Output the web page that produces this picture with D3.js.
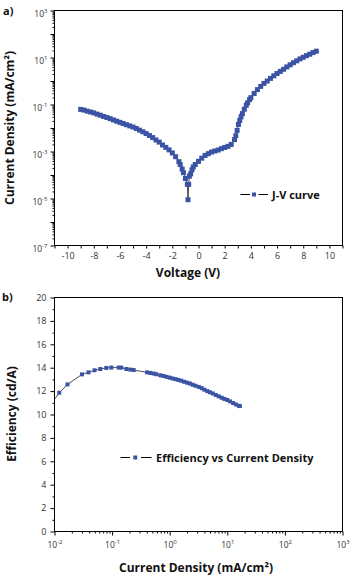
<!DOCTYPE html>
<html><head><meta charset="utf-8">
<script src="https://cdn.jsdelivr.net/npm/d3@7"></script>
<style>
body{margin:0;background:#fff}
svg{display:block}
text{font-family:"Open Sans","Noto Sans",sans-serif}
</style>
</head><body>
<svg id="c" width="355" height="578"></svg>
<script>
// ---- Data: panel a) J-V curve ----
const voltage = [-9,-8.75,-8.5,-8.25,-8,-7.75,-7.5,-7.25,-7,-6.75,-6.5,-6.25,-6,-5.75,-5.5,-5.25,-5,-4.75,-4.5,-4.25,-4,-3.75,-3.5,-3.25,-3,-2.75,-2.5,-2.25,-2,-1.75,-1.5,-1.4,-1.25,-1.15,-1.0,-0.85,-0.8,-0.75,-0.7,-0.6,-0.5,-0.4,-0.25,0,0.25,0.5,0.75,1.0,1.25,1.5,1.75,2.0,2.25,2.5,2.75,2.85,2.95,3.05,3.15,3.25,3.35,3.5,3.65,3.75,3.9,4.0,4.25,4.5,4.75,5.0,5.25,5.5,5.75,6.0,6.25,6.5,6.75,7.0,7.25,7.5,7.75,8.0,8.25,8.5,8.75,9.0];
const currentDensity = [6.2e-2,5.8e-2,5.2e-2,4.8e-2,4.4e-2,3.9e-2,3.5e-2,3.1e-2,2.8e-2,2.5e-2,2.2e-2,1.95e-2,1.74e-2,1.55e-2,1.38e-2,1.23e-2,1.10e-2,9.5e-3,8.1e-3,6.9e-3,5.8e-3,4.8e-3,3.9e-3,3.1e-3,2.5e-3,1.9e-3,1.5e-3,1.17e-3,8.7e-4,6.0e-4,3.7e-4,2.8e-4,1.8e-4,1.26e-4,7.1e-5,4.0e-5,8.9e-6,4.0e-5,8.9e-5,1.12e-4,1.66e-4,2.2e-4,2.8e-4,3.8e-4,5.2e-4,6.8e-4,8.1e-4,9.5e-4,1.05e-3,1.15e-3,1.32e-3,1.48e-3,1.66e-3,2.0e-3,3.2e-3,4.7e-3,7.9e-3,1.41e-2,2.1e-2,3.0e-2,4.1e-2,6.3e-2,9.3e-2,0.117,0.162,0.195,0.295,0.43,0.59,0.79,1.0,1.29,1.66,2.09,2.57,3.16,3.98,4.9,6.0,7.2,8.7,10.2,12.0,13.8,16.2,18.6];
const jvXTicks = [-10,-8,-6,-4,-2,0,2,4,6,8,10];
const jvYLabelExps = [-7,-5,-3,-1,1,3];
const jvLegend = "J-V curve";

// ---- Data: panel b) efficiency ----
const effCurrent = [0.0079,0.0121,0.0168,0.030,0.039,0.0496,0.0624,0.0793,0.0968,0.130,0.1445,0.177,0.207,0.237,0.405,0.461,0.527,0.587,0.69,0.78,0.88,1.0,1.12,1.26,1.41,1.58,1.78,2.0,2.24,2.5,2.8,3.2,3.6,4.0,4.5,5.0,5.6,6.3,7.1,8.0,8.9,10.0,11.2,12.6,14.1,15.8,16.5];
const efficiency = [10.6,11.86,12.57,13.43,13.6,13.78,13.89,13.98,14.01,14.01,14.01,13.89,13.84,13.8,13.6,13.55,13.5,13.44,13.35,13.29,13.22,13.15,13.08,13.02,12.96,12.89,12.80,12.72,12.65,12.55,12.46,12.36,12.25,12.12,12.0,11.9,11.8,11.67,11.55,11.43,11.33,11.24,11.12,10.98,10.86,10.75,10.72];
const effYTicks = [0,2,4,6,8,10,12,14,16,18,20];
const effXLabelExps = [-2,-1,0,1,2,3];
const effLegend = "Efficiency vs Current Density";

const BLUE = "#3a53a3";
const svg = d3.select("#c");

function supLabel(sel, exp){
  sel.text(null);
  sel.append("tspan").text("10").attr("font-size", 8.5);
  sel.append("tspan").text(String(exp)).attr("font-size", 6).attr("dy", -4);
}

function minorLog(lo, hi){
  const out=[];
  for(let e=lo;e<hi;e++) for(let m=2;m<=9;m++) out.push(m*Math.pow(10,e));
  return out;
}

// ================= Panel a =================
const A = {l:54.5, t:10.5, r:342.5, b:245.5};
const xA = d3.scaleLinear().domain([-11,11]).range([A.l, A.r]);
const yA = d3.scaleLog().domain([1e-7,1e3]).range([A.b, A.t]);

const gA = svg.append("g");
gA.append("clipPath").attr("id","clipA").append("rect")
  .attr("x",A.l).attr("y",A.t).attr("width",A.r-A.l).attr("height",A.b-A.t);

gA.append("g").attr("transform",`translate(${A.l},0)`)
  .call(d3.axisLeft(yA).tickValues(minorLog(-7,3)).tickSize(2).tickFormat(""))
  .call(g=>g.select(".domain").remove());
const yAxA = gA.append("g").attr("transform",`translate(${A.l},0)`)
  .call(d3.axisLeft(yA).tickValues(d3.range(-7,4).map(e=>Math.pow(10,e))).tickSize(4).tickPadding(3)
    .tickFormat(d=>{const e=Math.round(Math.log10(d)); return jvYLabelExps.includes(e)? String(e):"";}));
yAxA.select(".domain").remove();
yAxA.selectAll("text").attr("fill","#333").attr("dy","0.55em").each(function(){
  const t=d3.select(this); const e=t.text(); if(e!=="") supLabel(t,e);
});

const xAxA = gA.append("g").attr("transform",`translate(0,${A.b})`)
  .call(d3.axisBottom(xA).tickValues(d3.range(-11,12)).tickSize(3).tickPadding(4)
    .tickFormat(d=>jvXTicks.includes(d)? String(d):""));
xAxA.select(".domain").remove();
xAxA.selectAll("text").attr("fill","#333").attr("font-size",9);

gA.append("rect").attr("x",A.l).attr("y",A.t).attr("width",A.r-A.l).attr("height",A.b-A.t)
  .attr("fill","none").attr("stroke","#000").attr("stroke-width",1);

const jv = voltage.map((v,i)=>({x:v,y:currentDensity[i]}));
const plotA = gA.append("g").attr("clip-path","url(#clipA)");
plotA.append("path").datum(jv)
  .attr("d", d3.line().x(d=>xA(d.x)).y(d=>yA(d.y)))
  .attr("fill","none").attr("stroke","#000").attr("stroke-width",0.7);
plotA.selectAll("rect.m").data(jv).join("rect").attr("class","m")
  .attr("x",d=>xA(d.x)-2.5).attr("y",d=>yA(d.y)-2.5).attr("width",5).attr("height",5).attr("fill",BLUE);

const lgA = gA.append("g").attr("transform","translate(0,194.5)");
lgA.append("line").attr("x1",240.5).attr("x2",250).attr("y1",0).attr("y2",0).attr("stroke","#000").attr("stroke-width",1);
lgA.append("line").attr("x1",258.5).attr("x2",268).attr("y1",0).attr("y2",0).attr("stroke","#000").attr("stroke-width",1);
lgA.append("rect").attr("x",252).attr("y",-2).attr("width",4).attr("height",4).attr("fill",BLUE);
lgA.append("text").attr("x",272).attr("y",4).attr("font-size",11).attr("font-weight","bold").attr("fill","#111").text(jvLegend);

gA.append("text").attr("x",188).attr("y",277).attr("text-anchor","middle").attr("font-size",12).attr("font-weight","bold").attr("fill","#111").text("Voltage (V)");
gA.append("text").attr("transform","translate(14,128) rotate(-90)").attr("text-anchor","middle").attr("font-size",12).attr("font-weight","bold").attr("fill","#111").text("Current Density (mA/cm²)");
gA.append("text").attr("x",3).attr("y",15).attr("font-size",11).attr("font-weight","bold").attr("fill","#111").text("a)");

// ================= Panel b =================
const B = {l:54.5, t:297.5, r:342.5, b:531.5};
const xB = d3.scaleLog().domain([1e-2,1e3]).range([B.l, B.r]);
const yB = d3.scaleLinear().domain([0,20]).range([B.b, B.t]);

const gB = svg.append("g");
gB.append("clipPath").attr("id","clipB").append("rect")
  .attr("x",B.l).attr("y",B.t).attr("width",B.r-B.l).attr("height",B.b-B.t);

gB.append("g").attr("transform",`translate(${B.l},0)`)
  .call(d3.axisLeft(yB).tickValues(d3.range(1,20,2)).tickSize(2).tickFormat(""))
  .call(g=>g.select(".domain").remove());
const yAxB = gB.append("g").attr("transform",`translate(${B.l},0)`)
  .call(d3.axisLeft(yB).tickValues(effYTicks).tickSize(4).tickPadding(4).tickFormat(d3.format("d")));
yAxB.select(".domain").remove();
yAxB.selectAll("text").attr("fill","#333").attr("font-size",9);

gB.append("g").attr("transform",`translate(0,${B.b})`)
  .call(d3.axisBottom(xB).tickValues(minorLog(-2,3)).tickSize(2).tickFormat(""))
  .call(g=>g.select(".domain").remove());
const xAxB = gB.append("g").attr("transform",`translate(0,${B.b})`)
  .call(d3.axisBottom(xB).tickValues(effXLabelExps.map(e=>Math.pow(10,e))).tickSize(4).tickPadding(5)
    .tickFormat(d=>String(Math.round(Math.log10(d)))));
xAxB.select(".domain").remove();
xAxB.selectAll("text").attr("fill","#333").each(function(){
  const t=d3.select(this); supLabel(t,t.text());
});

gB.append("rect").attr("x",B.l).attr("y",B.t).attr("width",B.r-B.l).attr("height",B.b-B.t)
  .attr("fill","none").attr("stroke","#000").attr("stroke-width",1);

const ef = effCurrent.map((c,i)=>({x:c,y:efficiency[i]}));
const plotB = gB.append("g").attr("clip-path","url(#clipB)");
plotB.append("path").datum(ef)
  .attr("d", d3.line().x(d=>xB(d.x)).y(d=>yB(d.y)))
  .attr("fill","none").attr("stroke","#000").attr("stroke-width",0.7);
plotB.selectAll("rect.m").data(ef).join("rect").attr("class","m")
  .attr("x",d=>xB(d.x)-2).attr("y",d=>yB(d.y)-2).attr("width",4).attr("height",4).attr("fill",BLUE);

const lgB = gB.append("g").attr("transform","translate(0,457.5)");
lgB.append("line").attr("x1",120.5).attr("x2",130).attr("y1",0).attr("y2",0).attr("stroke","#000").attr("stroke-width",1);
lgB.append("line").attr("x1",141).attr("x2",151.5).attr("y1",0).attr("y2",0).attr("stroke","#000").attr("stroke-width",1);
lgB.append("rect").attr("x",133.3).attr("y",-2).attr("width",4).attr("height",4).attr("fill",BLUE);
lgB.append("text").attr("x",156).attr("y",4).attr("font-size",11).attr("font-weight","bold").attr("fill","#111").text(effLegend);

gB.append("text").attr("x",196).attr("y",572).attr("text-anchor","middle").attr("font-size",12).attr("font-weight","bold").attr("fill","#111").text("Current Density (mA/cm²)");
gB.append("text").attr("transform","translate(16,414) rotate(-90)").attr("text-anchor","middle").attr("font-size",12).attr("font-weight","bold").attr("fill","#111").text("Efficiency (cd/A)");
gB.append("text").attr("x",2).attr("y",301).attr("font-size",11).attr("font-weight","bold").attr("fill","#111").text("b)");
</script>
</body></html>
